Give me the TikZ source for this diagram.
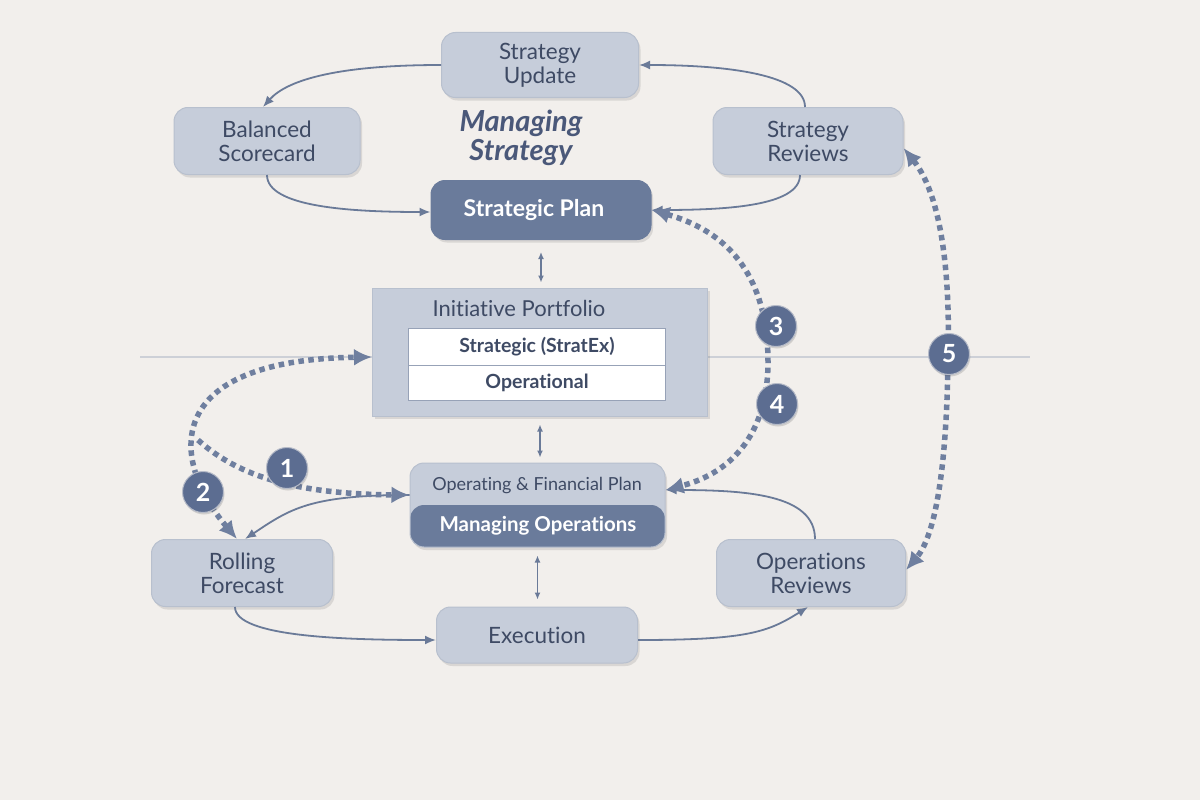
\documentclass[tikz,border=0pt]{standalone}
\usepackage{fontspec}
\setmainfont[Ligatures=NoCommon]{Lato}
\usetikzlibrary{arrows}
\usetikzlibrary{arrows.meta}
\usetikzlibrary{shadows}
\usetikzlibrary{calc}
\definecolor{BgColor}{HTML}{F2EFEC}
\definecolor{LightFill}{HTML}{C6CDDA}
\definecolor{LightLine}{HTML}{B8C0CE}
\definecolor{DarkFill}{HTML}{6A7B9B}
\definecolor{TextDark}{HTML}{3E4A64}
\definecolor{TitleColor}{HTML}{4A5879}
\definecolor{EdgeColor}{HTML}{6A7A98}
\definecolor{DotColor}{HTML}{6F7F9F}
\definecolor{BadgeFill}{HTML}{5C6D91}
\definecolor{RuleColor}{HTML}{CDD0D7}
\tikzstyle{BoxNode}=[rectangle, rounded corners=14pt, fill=LightFill, draw=LightLine, line width=1pt, text=TextDark, align=center, inner sep=0pt, font=\fontsize{22.5}{24}\selectfont, drop shadow={shadow xshift=2pt, shadow yshift=-3pt, opacity=0.15, fill=black!70}]
\tikzstyle{DarkNode}=[BoxNode, fill=DarkFill, draw=DarkFill, text=white, font=\fontsize{23}{26}\selectfont\bfseries]
\tikzstyle{PortNode}=[rectangle, fill=LightFill, draw=LightLine, line width=1pt, inner sep=0pt, drop shadow={shadow xshift=2pt, shadow yshift=-3pt, opacity=0.15, fill=black!70}]
\tikzstyle{RowNode}=[rectangle, fill=white, draw=EdgeColor!70, line width=1pt, inner sep=0pt, text=TextDark, font=\fontsize{19.5}{22}\selectfont\bfseries]
\tikzstyle{BadgeNode}=[circle, fill=BadgeFill, draw=BgColor!60!BadgeFill, line width=1pt, minimum size=41pt, inner sep=0pt, text=white, font=\fontsize{25}{26}\selectfont\bfseries, drop shadow={shadow xshift=1pt, shadow yshift=-2pt, opacity=0.2, fill=black!70}]
\tikzstyle{FlowEdge}=[-{Latex[length=11pt, width=9pt]}, line width=1.8pt, draw=EdgeColor]
\tikzstyle{SmallEdge}=[{Latex[length=7pt, width=6pt]}-{Latex[length=7pt, width=6pt]}, line width=1.3pt, draw=EdgeColor]
\tikzstyle{DotEdge}=[line width=5.5pt, draw=DotColor, dash pattern=on 5.5pt off 4.5pt, arrows={-Latex[length=18pt, width=17pt]}]
\tikzstyle{DoubleDotEdge}=[DotEdge, arrows={Latex[length=18pt, width=17pt]-Latex[length=18pt, width=17pt]}]
\tikzset{>=latex}

\begin{document}
\begin{tikzpicture}[x=1pt, y=-1pt]
\fill[BgColor] (0,0) rectangle (1200,800);
\useasboundingbox (0,0) rectangle (1200,800);
\draw[RuleColor, line width=1.2pt] (140,357) -- (1030,357);

% managing strategy
\node[BoxNode, minimum width=197pt, minimum height=65pt](StratUpdate) at (540,65) {Strategy\\Update};
\node[BoxNode, minimum width=186pt, minimum height=67pt](Scorecard) at (267,141) {Balanced\\Scorecard};
\node[BoxNode, minimum width=190pt, minimum height=67pt](StratReviews) at (808,141) {Strategy\\Reviews};
\node[align=center, text=TitleColor, font=\fontsize{29}{29}\selectfont\bfseries\itshape](MgmtTitle) at (521,138) {Managing\\Strategy};
\node[DarkNode, minimum width=220pt, minimum height=59pt](StratPlan) at (541,210) {Strategic Plan\hspace*{14pt}};

% initiative portfolio
\node[PortNode, minimum width=335pt, minimum height=128pt](Portfolio) at (540,352) {};
\node[text=TextDark, font=\fontsize{22}{24}\selectfont](PortTitle) at (519,308) {Initiative Portfolio};
\node[RowNode, minimum width=257pt, minimum height=37pt](RowStrat) at (537,346.5) {Strategic (StratEx)};
\node[RowNode, minimum width=257pt, minimum height=35pt](RowOper) at (537,382.5) {Operational};

% managing operations
\node[BoxNode, minimum width=255pt, minimum height=84pt, path picture={\fill[DarkFill] (path picture bounding box.south west) rectangle (path picture bounding box.east);}](OpPlan) at (537.5,505) {};
\node[text=TextDark, font=\fontsize{18}{20}\selectfont](OpPlanText) at (537,486) {Operating \& Financial Plan};
\node[text=white, font=\fontsize{20.5}{22}\selectfont\bfseries](MgmtOps) at (538,526) {Managing Operations};
\node[BoxNode, minimum width=181pt, minimum height=67pt](Forecast) at (242,573) {Rolling\\Forecast};
\node[BoxNode, minimum width=189pt, minimum height=67pt](OpsReviews) at (811,573) {Operations\\Reviews};
\node[BoxNode, minimum width=201pt, minimum height=56pt](Execution) at (537,635) {Execution};

% solid loops
\draw[FlowEdge](StratUpdate.west) .. controls +(-100,0) and +(25,-28) .. ([xshift=-4pt]Scorecard.north);
\draw[FlowEdge]([xshift=-3pt]StratReviews.north) .. controls +(0,-32) and +(90,0) .. (StratUpdate.east);
\draw[FlowEdge](Scorecard.south) .. controls +(0,32) and +(-80,0) .. ([yshift=-2pt]StratPlan.west);
\draw[FlowEdge]([xshift=-8pt]StratReviews.south) .. controls +(0,32) and +(70,0) .. (StratPlan.east);
\draw[FlowEdge]([yshift=10pt]OpPlan.west) .. controls +(-100,0) and +(45,-30) .. ([xshift=3pt]Forecast.north);
\draw[FlowEdge]([xshift=-7pt]Forecast.south) .. controls +(0,30) and +(-90,0) .. ([yshift=-5pt]Execution.west);
\draw[FlowEdge]([yshift=-5pt]Execution.east) .. controls +(110,0) and +(-40,25) .. ([xshift=-3pt]OpsReviews.south);
\draw[FlowEdge]([xshift=4pt]OpsReviews.north) .. controls +(0,-45) and +(80,0) .. ([yshift=15pt]OpPlan.east);

\draw[SmallEdge, shorten <=12pt, shorten >=5pt](StratPlan.south) -- (StratPlan.south |- Portfolio.north);
\draw[SmallEdge, shorten <=8pt, shorten >=5pt](Portfolio.south) -- (Portfolio.south |- OpPlan.north);
\draw[SmallEdge, shorten <=8pt, shorten >=7pt](OpPlan.south) -- (OpPlan.south |- Execution.north);

% dotted links
\coordinate (Fork) at (198,440);
\coordinate (MidThree) at (768,362);
\coordinate (MidFive) at (948,360);
\draw[DoubleDotEdge]([xshift=-5pt]Forecast.north) .. controls (170,460) and (160,360) .. ([yshift=-5pt]Portfolio.west);
\draw[DotEdge](Fork) .. controls (240,478) and (300,494) .. ([yshift=10pt]OpPlan.west);
\draw[DoubleDotEdge](StratPlan.east) .. controls (740,235) and (768,290) .. (MidThree) .. controls (768,430) and (735,472) .. ([yshift=15pt]OpPlan.east);
\draw[DoubleDotEdge]([yshift=-7pt]StratReviews.east) .. controls (945,200) and (950,290) .. (MidFive) .. controls (947,440) and (940,530) .. ([yshift=3pt]OpsReviews.east);

\node[BadgeNode](BadgeOne) at (287,468) {1};
\node[BadgeNode](BadgeTwo) at (203,492) {2};
\node[BadgeNode](BadgeThree) at (776,326) {3};
\node[BadgeNode](BadgeFour) at (777,404) {4};
\node[BadgeNode](BadgeFive) at (949,354) {5};
\end{tikzpicture}
\end{document}
